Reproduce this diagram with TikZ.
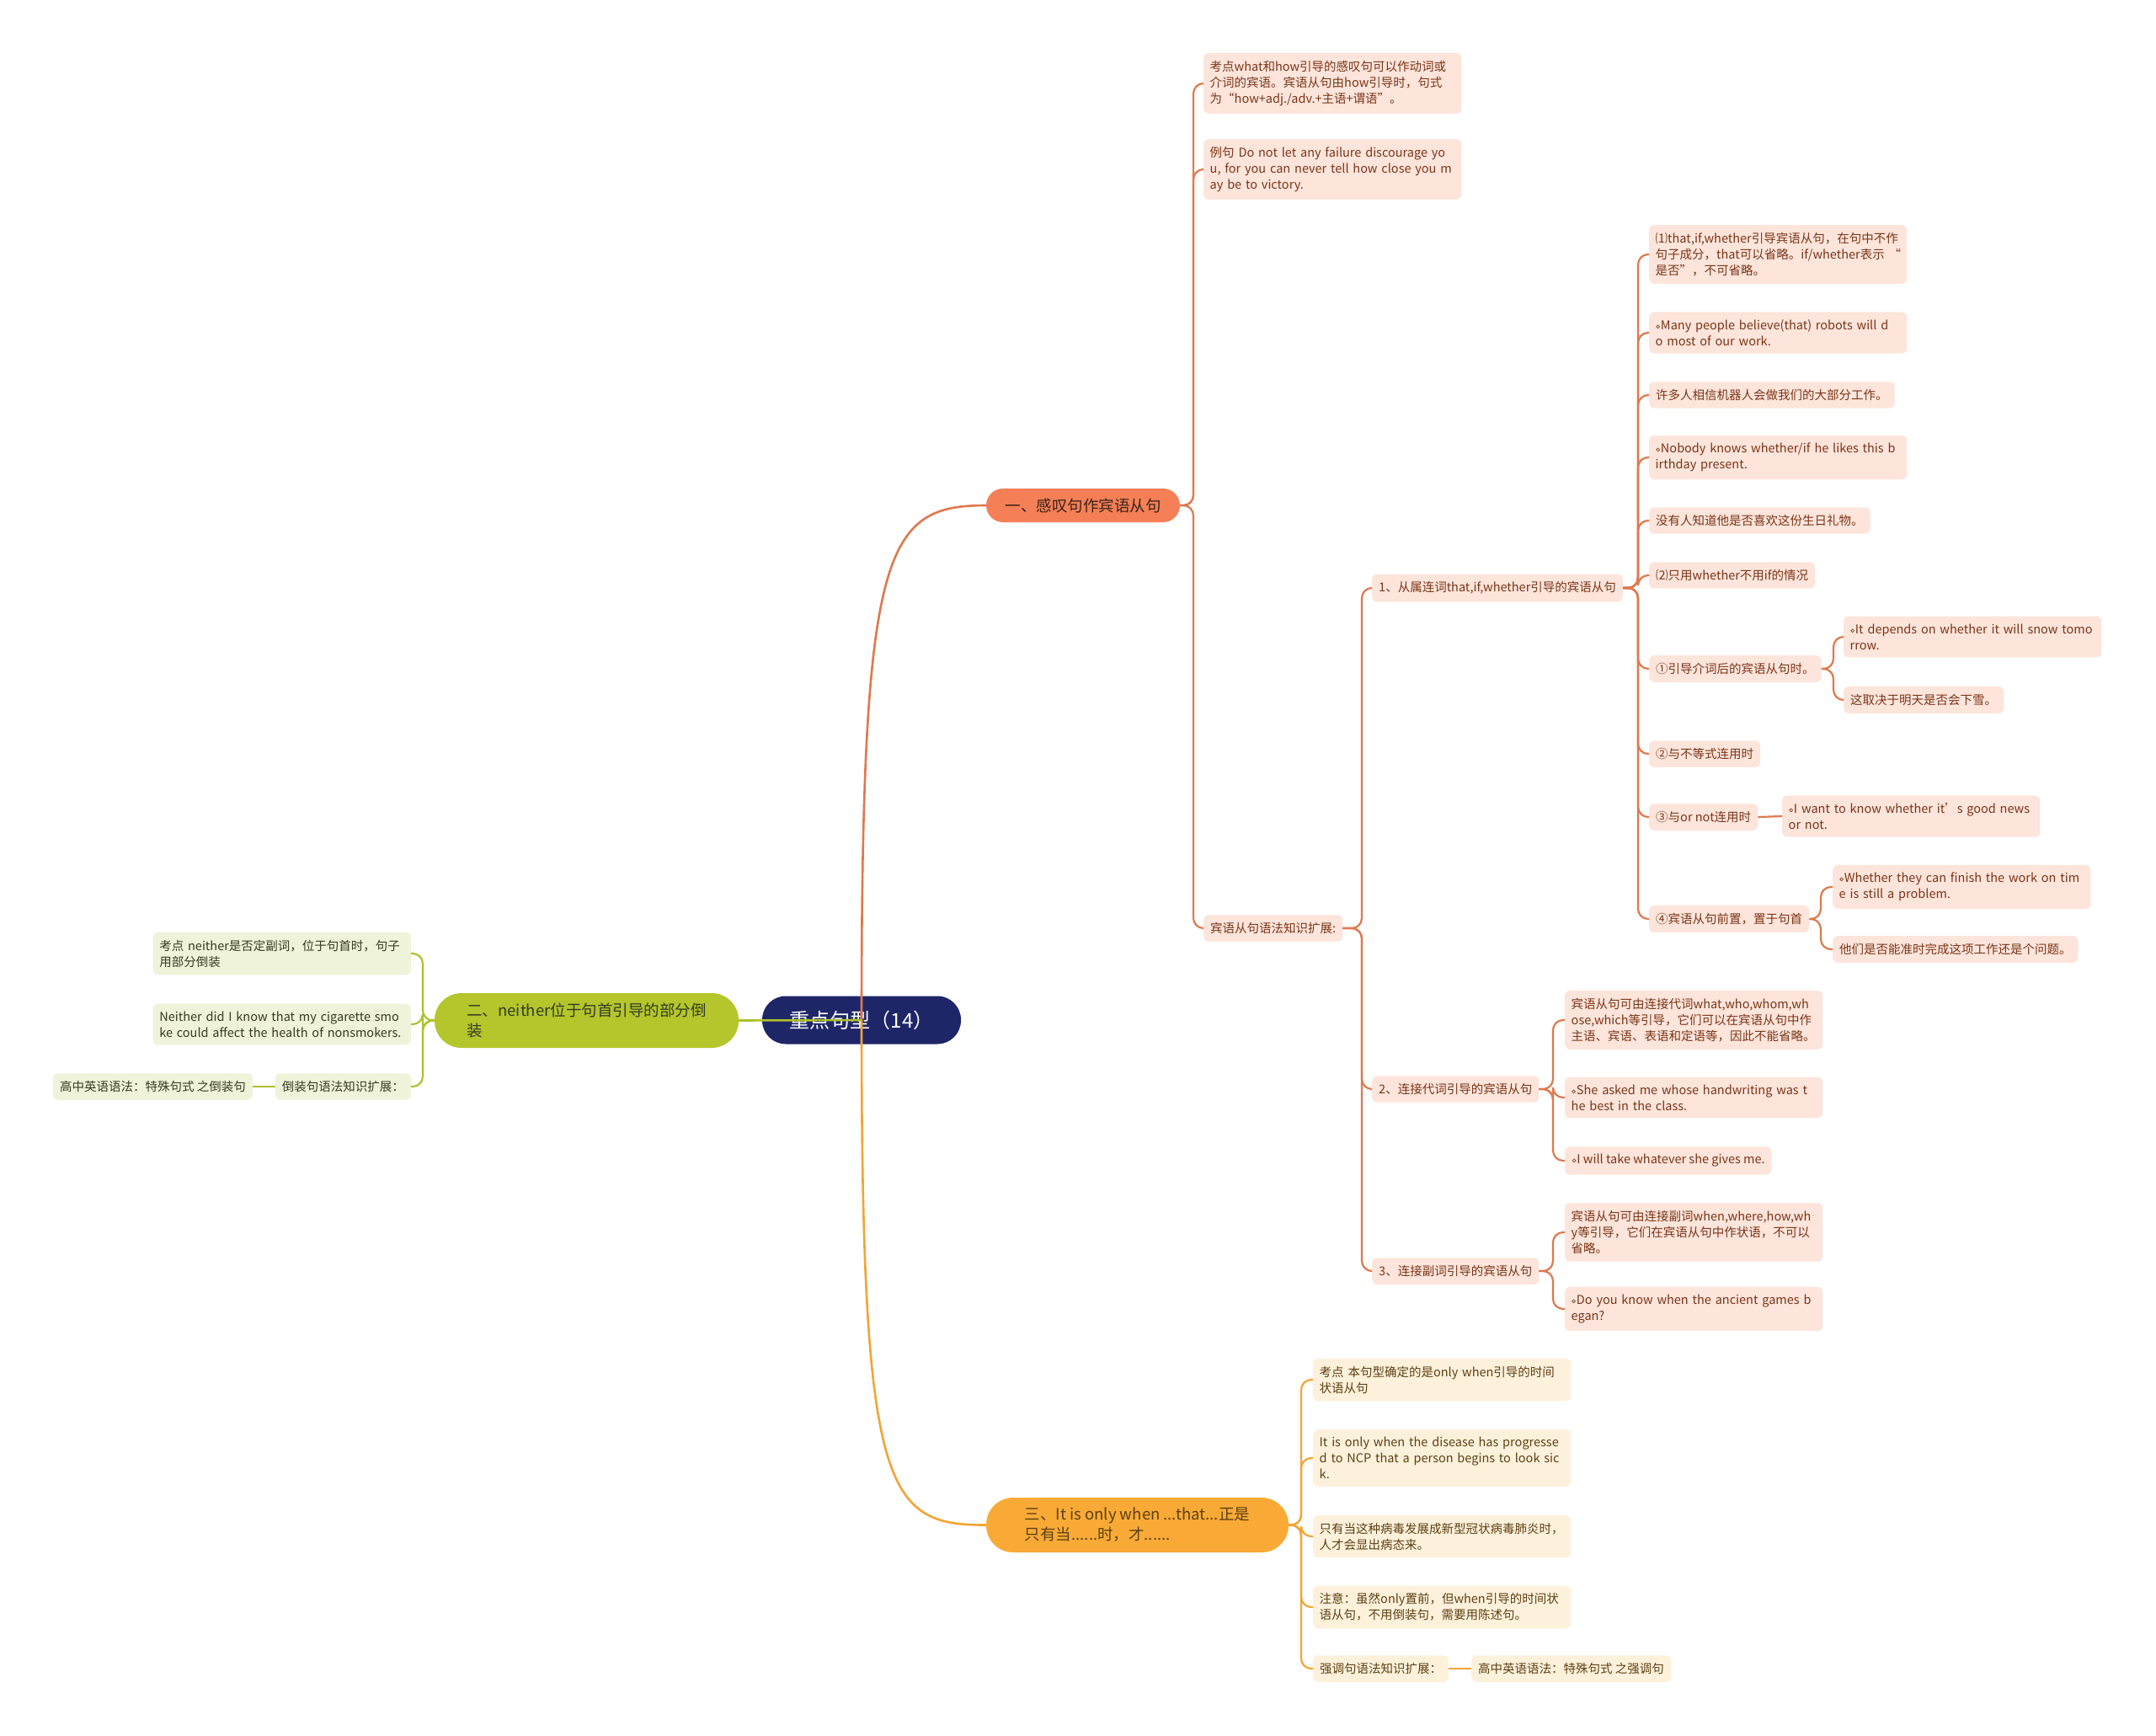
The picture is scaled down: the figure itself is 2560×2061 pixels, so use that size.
\documentclass[tikz,border=0pt]{standalone}
\usepackage{fontspec}
\setmainfont{Noto Sans CJK SC}
\newfontfamily\djv{DejaVu Sans}
\newcommand\dm{{\djv\fontsize{10}{10}\selectfont ⋄}}
\definecolor{rootc}{HTML}{1E2668}
\definecolor{bone}{HTML}{F57F56}
\definecolor{btwo}{HTML}{B4C62B}
\definecolor{bthree}{HTML}{F9AA36}
\definecolor{obox}{HTML}{FDE5DB}
\definecolor{gbox}{HTML}{EFF3D9}
\definecolor{ybox}{HTML}{FEF1DC}
\definecolor{oline}{HTML}{E0784E}
\definecolor{gline}{HTML}{AFC02A}
\definecolor{yline}{HTML}{F2A535}
\definecolor{otext}{HTML}{7A3518}
\definecolor{gtext}{HTML}{353A22}
\definecolor{ytext}{HTML}{5C4012}
\definecolor{pilltext}{HTML}{3A2418}
\begin{document}
\begin{tikzpicture}[x=1pt,y=-1pt,
  base/.style={rounded corners=6pt, inner xsep=8pt, inner ysep=9pt, align=left,
     font=\fontsize{14.5}{19}\selectfont, anchor=west},
  ob/.style={base, fill=obox, text=otext},
  gb/.style={base, fill=gbox, text=gtext, anchor=east},
  yb/.style={base, fill=ybox, text=ytext},
  wide/.style={text width=291pt, inner xsep=7.5pt},
  pill/.style={align=left, inner sep=0pt, font=\fontsize{18.5}{24}\selectfont},
  ol/.style={draw=oline, line width=2.2pt, rounded corners=12pt},
  gl/.style={draw=gline, line width=2.2pt, rounded corners=12pt},
  yl/.style={draw=yline, line width=2.2pt, rounded corners=12pt},
  mainline/.style={line width=2.6pt}
]
\useasboundingbox (0,0) rectangle (2560,2061);
\fill[white] (0,0) rectangle (2560,2061);

% trunk coordinates
\coordinate (tb1) at (1417,0);
\coordinate (tc3) at (1617,0);
\coordinate (tn1) at (1945,0);
\coordinate (tn1g) at (2177,0);
\coordinate (tn1j) at (2162,0);
\coordinate (tn2) at (1844,0);
\coordinate (tb3) at (1545,0);
\coordinate (tb2) at (502,0);

% main nodes
\node[pill, fill=rootc, text=white, font=\fontsize{24}{28}\selectfont, align=center,
  minimum width=236pt, minimum height=57pt, rounded corners=28pt] (root) at (1023,1211) {重点句型（14）};
\node[pill, fill=bone, text=pilltext, align=center, minimum width=230pt, minimum height=40pt,
  rounded corners=20pt] (b1) at (1286,600) {一、感叹句作宾语从句};
\node[pill, fill=btwo, text=gtext, minimum width=361pt, minimum height=65pt,
  rounded corners=32pt] (b2) at (696.5,1211.5) {二、neither位于句首引导的部分倒\\装};
\node[pill, fill=bthree, text=ytext, minimum width=359pt, minimum height=65pt,
  rounded corners=32pt] (b3) at (1350.5,1810.5) {三、It is only when ...that...正是\\只有当......时，才......};

% branch 1 children
\node[ob, wide] (c1) at (1429,99) {考点what和how引导的感叹句可以作动词或\\介词的宾语。宾语从句由how引导时，句式\\为“how+adj./adv.+主语+谓语”。};
\node[ob, wide] (c2) at (1429,201) {例句 Do not let any failure discourage yo\\u, for you can never tell how close you m\\ay be to victory.};
\node[ob] (c3) at (1429,1102) {宾语从句语法知识扩展:};

\node[ob] (n1) at (1629,698) {1、从属连词that,if,whether引导的宾语从句};
\node[ob] (n2) at (1629,1293) {2、连接代词引导的宾语从句};
\node[ob] (n3) at (1629,1509) {3、连接副词引导的宾语从句};

\node[ob, wide] (n1a) at (1958,302) {⑴that,if,whether引导宾语从句，在句中不作\\\mbox{句子成分，that可以省略。if/whether表示 “}\\是否”，不可省略。};
\node[ob, wide] (n1b) at (1958,395) {\dm Many people believe(that) robots will d\\o most of our work.};
\node[ob] (n1c) at (1958,469) {许多人相信机器人会做我们的大部分工作。};
\node[ob, wide] (n1d) at (1958,543) {\dm Nobody knows whether/if he likes this b\\irthday present.};
\node[ob] (n1e) at (1958,618) {没有人知道他是否喜欢这份生日礼物。};
\node[ob] (n1f) at (1958,683) {⑵只用whether不用if的情况};
\node[ob] (n1g) at (1958,794) {①引导介词后的宾语从句时。};
\node[ob, wide] (n1g1) at (2189,756) {\dm It depends on whether it will snow tomo\\rrow.};
\node[ob] (n1g2) at (2189,831) {这取决于明天是否会下雪。};
\node[ob] (n1h) at (1958,895) {②与不等式连用时};
\node[ob] (n1i) at (1958,970) {③与or not连用时};
\node[ob, wide] (n1i1) at (2116,969) {\dm I want to know whether it's good news\\or not.};
\node[ob] (n1j) at (1958,1091) {④宾语从句前置，置于句首};
\node[ob, wide] (n1j1) at (2176,1053) {\dm Whether they can finish the work on tim\\e is still a problem.};
\node[ob] (n1j2) at (2176,1127) {他们是否能准时完成这项工作还是个问题。};

\node[ob, wide] (n2a) at (1858,1211) {宾语从句可由连接代词what,who,whom,wh\\ose,which等引导，它们可以在宾语从句中作\\主语、宾语、表语和定语等，因此不能省略。};
\node[ob, wide] (n2b) at (1858,1303) {\dm She asked me whose handwriting was t\\he best in the class.};
\node[ob] (n2c) at (1858,1378) {\dm I will take whatever she gives me.};
\node[ob, wide] (n3a) at (1858,1463) {宾语从句可由连接副词when,where,how,wh\\y等引导，它们在宾语从句中作状语，不可以\\省略。};
\node[ob, wide] (n3b) at (1858,1554) {\dm Do you know when the ancient games b\\egan?};

% branch 2 children
\node[gb, wide] (b2a) at (488,1132) {考点 neither是否定副词，位于句首时，句子\\用部分倒装};
\node[gb, wide] (b2b) at (488,1216) {Neither did I know that my cigarette smo\\ke could affect the health of nonsmokers.};
\node[gb] (b2c) at (488,1290) {倒装句语法知识扩展：};
\node[gb] (b2c1) at (300,1290) {高中英语语法：特殊句式 之倒装句};

% branch 3 children
\node[yb, wide] (b3a) at (1559,1638) {考点 本句型确定的是only when引导的时间\\状语从句};
\node[yb, wide] (b3b) at (1559,1731) {It is only when the disease has progresse\\d to NCP that a person begins to look sic\\k.};
\node[yb, wide] (b3c) at (1559,1824) {只有当这种病毒发展成新型冠状病毒肺炎时，\\人才会显出病态来。};
\node[yb, wide] (b3d) at (1559,1908) {注意：虽然only置前，但when引导的时间状\\语从句，不用倒装句，需要用陈述句。};
\node[yb] (b3e) at (1559,1981) {强调句语法知识扩展：};
\node[yb] (b3e1) at (1747,1981) {高中英语语法：特殊句式 之强调句};

% main connectors
\draw[mainline, draw=oline] (root.center) .. controls (1023,650) and (1050,600) .. (b1.west);
\draw[mainline, draw=yline] (root.center) .. controls (1023,1770) and (1050,1811) .. (b3.west);
\draw[mainline, draw=gline] (root.center) -- (b2.east);

% branch 1 connectors
\foreach \c in {c1,c2,c3} \draw[ol] (b1.east) -- (b1.east -| tb1) |- (\c.west);
\foreach \c in {n1,n2,n3} \draw[ol] (c3.east) -- (c3.east -| tc3) |- (\c.west);
\foreach \c in {n1a,n1b,n1c,n1d,n1e,n1f,n1g,n1h,n1i,n1j} \draw[ol] (n1.east) -- (n1.east -| tn1) |- (\c.west);
\foreach \c in {n1g1,n1g2} \draw[ol] (n1g.east) -- (n1g.east -| tn1g) |- (\c.west);
\draw[ol] (n1i.east) -- (n1i1.west);
\foreach \c in {n1j1,n1j2} \draw[ol] (n1j.east) -- (n1j.east -| tn1j) |- (\c.west);
\foreach \c in {n2a,n2b,n2c} \draw[ol] (n2.east) -- (n2.east -| tn2) |- (\c.west);
\foreach \c in {n3a,n3b} \draw[ol] (n3.east) -- (n3.east -| tn2) |- (\c.west);

% branch 2 connectors
\foreach \c in {b2a,b2b,b2c} \draw[gl] (b2.west) -- (b2.west -| tb2) |- (\c.east);
\draw[gl] (b2c.west) -- (b2c1.east);

% branch 3 connectors
\foreach \c in {b3a,b3b,b3c,b3d,b3e} \draw[yl] (b3.east) -- (b3.east -| tb3) |- (\c.west);
\draw[yl] (b3e.east) -- (b3e1.west);
\end{tikzpicture}
\end{document}
